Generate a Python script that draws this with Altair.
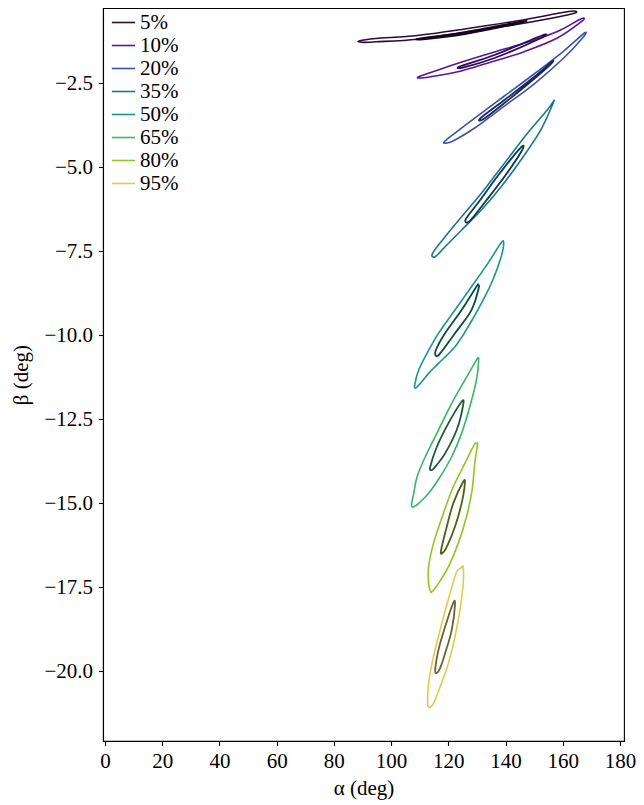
import altair as alt
import pandas as pd

levels = ["5%", "10%", "20%", "35%", "50%", "65%", "80%", "95%"]
outer_colors = ["#2c0b34", "#5b149f", "#3b53ad", "#1a7694", "#1a968a", "#3cb36b", "#92c524", "#dbcd52"]
inner_colors = ["#16051c", "#2d0b52", "#1d2858", "#0d3b4a", "#0c4b45", "#1e5a36", "#496312", "#6e6232"]

x_ticks = [0, 20, 40, 60, 80, 100, 120, 140, 160, 180]
y_ticks = [-20.0, -17.5, -15.0, -12.5, -10.0, -7.5, -5.0, -2.5]

# ---- outer contours (alpha, beta in degrees) ----
a05_out = [88.80, 94.68, 109.19, 125.78, 143.74, 161.02, 164.48, 162.40, 143.74, 125.78, 109.19, 94.68, 89.84]
b05_out = [-1.250, -1.176, -1.086, -0.893, -0.655, -0.387, -0.366, -0.461, -0.759, -0.982, -1.199, -1.274, -1.289]

a10_out = [109.54, 115.41, 123.36, 136.14, 146.51, 157.91, 165.51, 167.24, 166.55, 157.91, 146.51, 136.14, 123.36, 115.41, 110.57]
b10_out = [-2.321, -2.143, -1.914, -1.577, -1.318, -0.973, -0.625, -0.565, -0.670, -1.170, -1.568, -1.845, -2.164, -2.292, -2.351]

a20_out = [118.52, 122.32, 129.23, 139.60, 149.96, 160.33, 167.59, 166.90, 160.33, 149.96, 139.60, 129.23, 122.32, 119.56]
b20_out = [-4.256, -3.988, -3.542, -2.887, -2.232, -1.548, -1.012, -1.161, -1.756, -2.530, -3.185, -3.839, -4.196, -4.286]

a35_out = [114.48, 118.87, 124.64, 131.55, 139.60, 147.65, 154.56, 156.63, 156.63, 152.28, 145.37, 138.46, 131.55, 124.64, 118.87, 115.41]
b35_out = [-7.568, -7.074, -6.479, -5.783, -4.890, -3.997, -3.304, -3.057, -3.104, -3.899, -4.792, -5.586, -6.280, -6.875, -7.372, -7.670]

a50_out = [138.46, 133.83, 128.09, 122.32, 116.55, 112.54, 109.64, 108.26, 108.67, 110.23, 113.10, 116.55, 122.32, 126.92, 131.55, 135.56, 138.46, 139.36]
b50_out = [-7.253, -7.866, -8.563, -9.256, -9.949, -10.545, -11.042, -11.488, -11.577, -11.438, -11.140, -10.842, -10.348, -9.753, -9.057, -8.363, -7.670, -7.271]

a65_out = [130.37, 129.82, 125.78, 121.18, 116.55, 111.95, 109.09, 107.91, 107.12, 107.91, 109.64, 113.10, 117.14, 121.18, 124.64, 127.50, 129.82, 130.61]
b65_out = [-10.693, -10.744, -11.339, -12.033, -12.827, -13.622, -14.217, -14.711, -15.060, -15.110, -15.009, -14.711, -14.217, -13.622, -12.926, -12.134, -11.339, -10.744]

a80_out = [129.82, 128.99, 125.78, 121.73, 118.28, 114.82, 113.10, 113.10, 113.68, 114.27, 116.55, 120.01, 123.46, 126.36, 128.30, 129.23, 130.16]
b80_out = [-13.223, -13.274, -13.818, -14.515, -15.307, -16.199, -16.896, -17.390, -17.610, -17.640, -17.390, -16.896, -16.199, -15.408, -14.613, -13.818, -13.274]

a95_out = [125.19, 124.39, 122.91, 120.59, 117.73, 114.82, 113.10, 112.75, 113.34, 114.82, 117.14, 120.01, 122.32, 124.05, 125.19]
b95_out = [-16.905, -16.935, -17.045, -17.688, -18.580, -19.574, -20.366, -20.961, -21.080, -20.961, -20.467, -19.771, -18.979, -18.185, -17.390]

# ---- inner contours ----
a05_in = [110.23, 125.78, 145.82, 143.74, 125.78, 111.26]
b05_in = [-1.170, -0.991, -0.664, -0.738, -1.042, -1.199]

a10_in = [124.39, 136.14, 152.73, 151.69, 136.14, 125.09]
b10_in = [-1.994, -1.667, -1.086, -1.190, -1.756, -2.039]

a20_in = [131.31, 139.60, 149.96, 156.18, 155.49, 148.24, 139.60, 132.34]
b20_in = [-3.542, -3.006, -2.321, -1.860, -1.964, -2.500, -3.095, -3.571]

a35_in = [145.13, 137.52, 130.61, 126.12, 127.50, 133.38, 140.29, 145.82]
b35_in = [-4.435, -5.238, -6.042, -6.548, -6.607, -5.982, -5.208, -4.494]

a50_in = [129.82, 124.64, 118.87, 115.65, 115.76, 117.14, 122.32, 128.09, 130.61, 130.37]
b50_in = [-8.563, -9.256, -9.949, -10.446, -10.625, -10.545, -9.949, -9.256, -8.610, -8.512]

a65_in = [124.64, 120.01, 116.00, 113.68, 114.03, 115.06, 118.87, 122.91, 125.19]
b65_in = [-11.985, -12.628, -13.324, -13.920, -14.018, -13.958, -13.521, -12.827, -12.083]

a80_in = [125.19, 121.73, 119.45, 117.48, 117.73, 119.45, 122.32, 124.64, 125.78]
b80_in = [-14.366, -15.009, -15.705, -16.399, -16.497, -16.301, -15.705, -15.009, -14.414]

a95_in = [121.73, 118.87, 116.55, 115.41, 116.00, 117.14, 118.87, 121.18, 122.32]
b95_in = [-17.967, -18.682, -19.375, -19.970, -20.051, -19.911, -19.473, -18.780, -18.036]

outer = [(a05_out, b05_out), (a10_out, b10_out), (a20_out, b20_out), (a35_out, b35_out),
         (a50_out, b50_out), (a65_out, b65_out), (a80_out, b80_out), (a95_out, b95_out)]
inner = [(a05_in, b05_in), (a10_in, b10_in), (a20_in, b20_in), (a35_in, b35_in),
         (a50_in, b50_in), (a65_in, b65_in), (a80_in, b80_in), (a95_in, b95_in)]


def frame(pairs):
    rows = []
    for lev, (a, b) in zip(levels, pairs):
        for i, (x, y) in enumerate(zip(a, b)):
            rows.append({"level": lev, "alpha": x, "beta": y, "i": i})
    return pd.DataFrame(rows)


df_out = frame(outer)
df_in = frame(inner)

FONT = "Liberation Serif"

xs = alt.Scale(domain=[-0.69, 181.4], nice=False, zero=False)
ys = alt.Scale(domain=[-22.08, -0.268], nice=False, zero=False)

xenc = alt.X("alpha:Q", scale=xs, title="α (deg)",
             axis=alt.Axis(values=x_ticks, grid=False, tickSize=4.5, labelPadding=5,
                           titlePadding=6, labelFlush=False))
yenc = alt.Y("beta:Q", scale=ys, title="β (deg)",
             axis=alt.Axis(values=y_ticks, grid=False, tickSize=4.5, labelPadding=6,
                           titlePadding=12,
                           labelExpr="replace(format(datum.value, '.1f'), '-', '−')"))

outer_layer = alt.Chart(df_out).mark_line(
    interpolate="cardinal-closed", strokeWidth=1.6
).encode(
    x=xenc, y=yenc,
    color=alt.Color("level:N", scale=alt.Scale(domain=levels, range=outer_colors),
                    legend=alt.Legend(title=None, orient="none", legendX=8, legendY=2,
                                      symbolType="stroke", symbolSize=540,
                                      symbolStrokeWidth=1.6, labelFont=FONT,
                                      labelFontSize=21, labelOffset=4, rowPadding=0,
                                      padding=0, labelColor="black")),
    order="i:Q",
    detail="level:N",
)

inner_layer = alt.Chart(df_in).mark_line(
    interpolate="cardinal-closed", strokeWidth=1.8
).encode(
    x=alt.X("alpha:Q", scale=xs),
    y=alt.Y("beta:Q", scale=ys),
    color=alt.Color("level:N", scale=alt.Scale(domain=levels, range=inner_colors), legend=None),
    order="i:Q",
    detail="level:N",
)

chart = alt.layer(outer_layer, inner_layer).resolve_scale(color="independent").properties(
    width=521, height=733,
    autosize=alt.AutoSizeParams(type="none"),
    padding={"left": 95, "top": 0, "right": 12, "bottom": 60},
).configure_view(
    stroke="black", strokeWidth=1.1
).configure_axis(
    labelFont=FONT, titleFont=FONT, labelFontSize=21, titleFontSize=21,
    labelColor="black", titleColor="black", tickColor="black", domainColor="black",
    domainWidth=1.1, tickWidth=1.1, titleFontWeight="normal"
)

chart.save("out.html", embed_options={"renderer": "svg", "actions": False})
